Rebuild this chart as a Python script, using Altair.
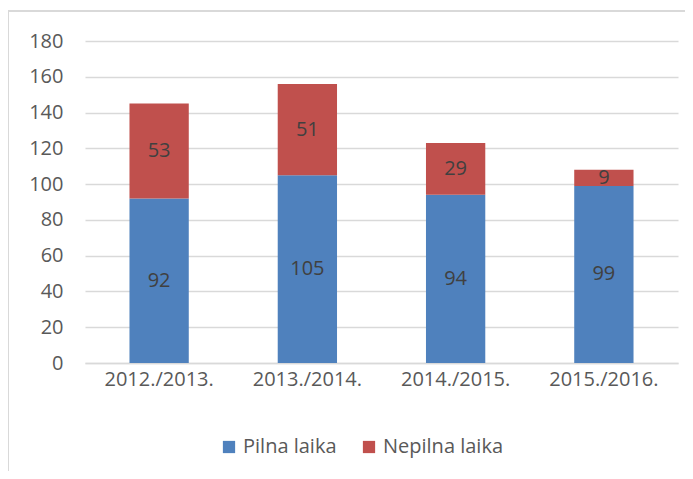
import altair as alt
import pandas as pd

years = ["2012./2013.", "2013./2014.", "2014./2015.", "2015./2016."]
pilna = [92, 105, 94, 99]
nepilna = [53, 51, 29, 9]
series = ["Pilna laika", "Nepilna laika"]
colors = ["#4F81BD", "#C0504D"]

rows = []
for y, p, n in zip(years, pilna, nepilna):
    rows.append({"year": y, "series": series[0], "value": p, "order": 0, "start": 0, "end": p})
    rows.append({"year": y, "series": series[1], "value": n, "order": 1, "start": p, "end": p + n})
df = pd.DataFrame(rows)
df["mid"] = (df["start"] + df["end"]) / 2

FONT = "Open Sans"
FS = 20

xaxis = alt.Axis(labelAngle=0, labelFontSize=FS, labelColor="#595959", labelFont=FONT,
                 ticks=False, domainColor="#d9d9d9", domainWidth=1.5, labelPadding=6, title=None)
yaxis = alt.Axis(values=list(range(0, 181, 20)), labelFontSize=FS, labelColor="#595959",
                 labelFont=FONT, ticks=False, domain=False, gridColor="#d9d9d9",
                 gridWidth=1.5, labelPadding=22, labelOverlap=False, title=None)
xscale = alt.Scale(paddingInner=0.6, paddingOuter=0.3)
yscale = alt.Scale(domain=[0, 180], nice=False)

bars = alt.Chart(df).mark_bar().encode(
    x=alt.X("year:N", sort=years, title=None, scale=xscale, axis=xaxis),
    y=alt.Y("start:Q", title=None, scale=yscale, axis=yaxis),
    y2="end:Q",
    color=alt.Color("series:N", sort=series,
                    scale=alt.Scale(domain=series, range=colors),
                    legend=alt.Legend(title=None, orient="none", direction="horizontal",
                                      legendX=134, legendY=396, symbolType="square",
                                      symbolSize=150, symbolStrokeWidth=0, labelFontSize=FS,
                                      labelColor="#595959", labelFont=FONT, columnPadding=22,
                                      symbolOpacity=1)),
    order="order:Q",
)

labels = alt.Chart(df).mark_text(fontSize=20, color="#404040", font=FONT).encode(
    x=alt.X("year:N", sort=years, title=None, scale=xscale, axis=xaxis),
    y=alt.Y("mid:Q", title=None, scale=yscale, axis=yaxis),
    text="value:Q",
)

border_top = alt.Chart(df).mark_rule(color="#d9d9d9", strokeWidth=1.5).encode(
    x=alt.value(-77), x2=alt.value(620), y=alt.value(-30))
border_left = alt.Chart(df).mark_rule(color="#d9d9d9", strokeWidth=1.5).encode(
    x=alt.value(-77), y=alt.value(-30), y2=alt.value(440))

chart = alt.layer(bars, labels, border_top, border_left).properties(
    width=593, height=322,
    background="white",
    autosize=alt.AutoSizeParams(type="none"),
    padding={"left": 77, "top": 33, "right": 7, "bottom": 108},
).configure_view(strokeWidth=0, stroke="transparent")

chart.save("out.html", embed_options={"renderer": "svg", "actions": False})
